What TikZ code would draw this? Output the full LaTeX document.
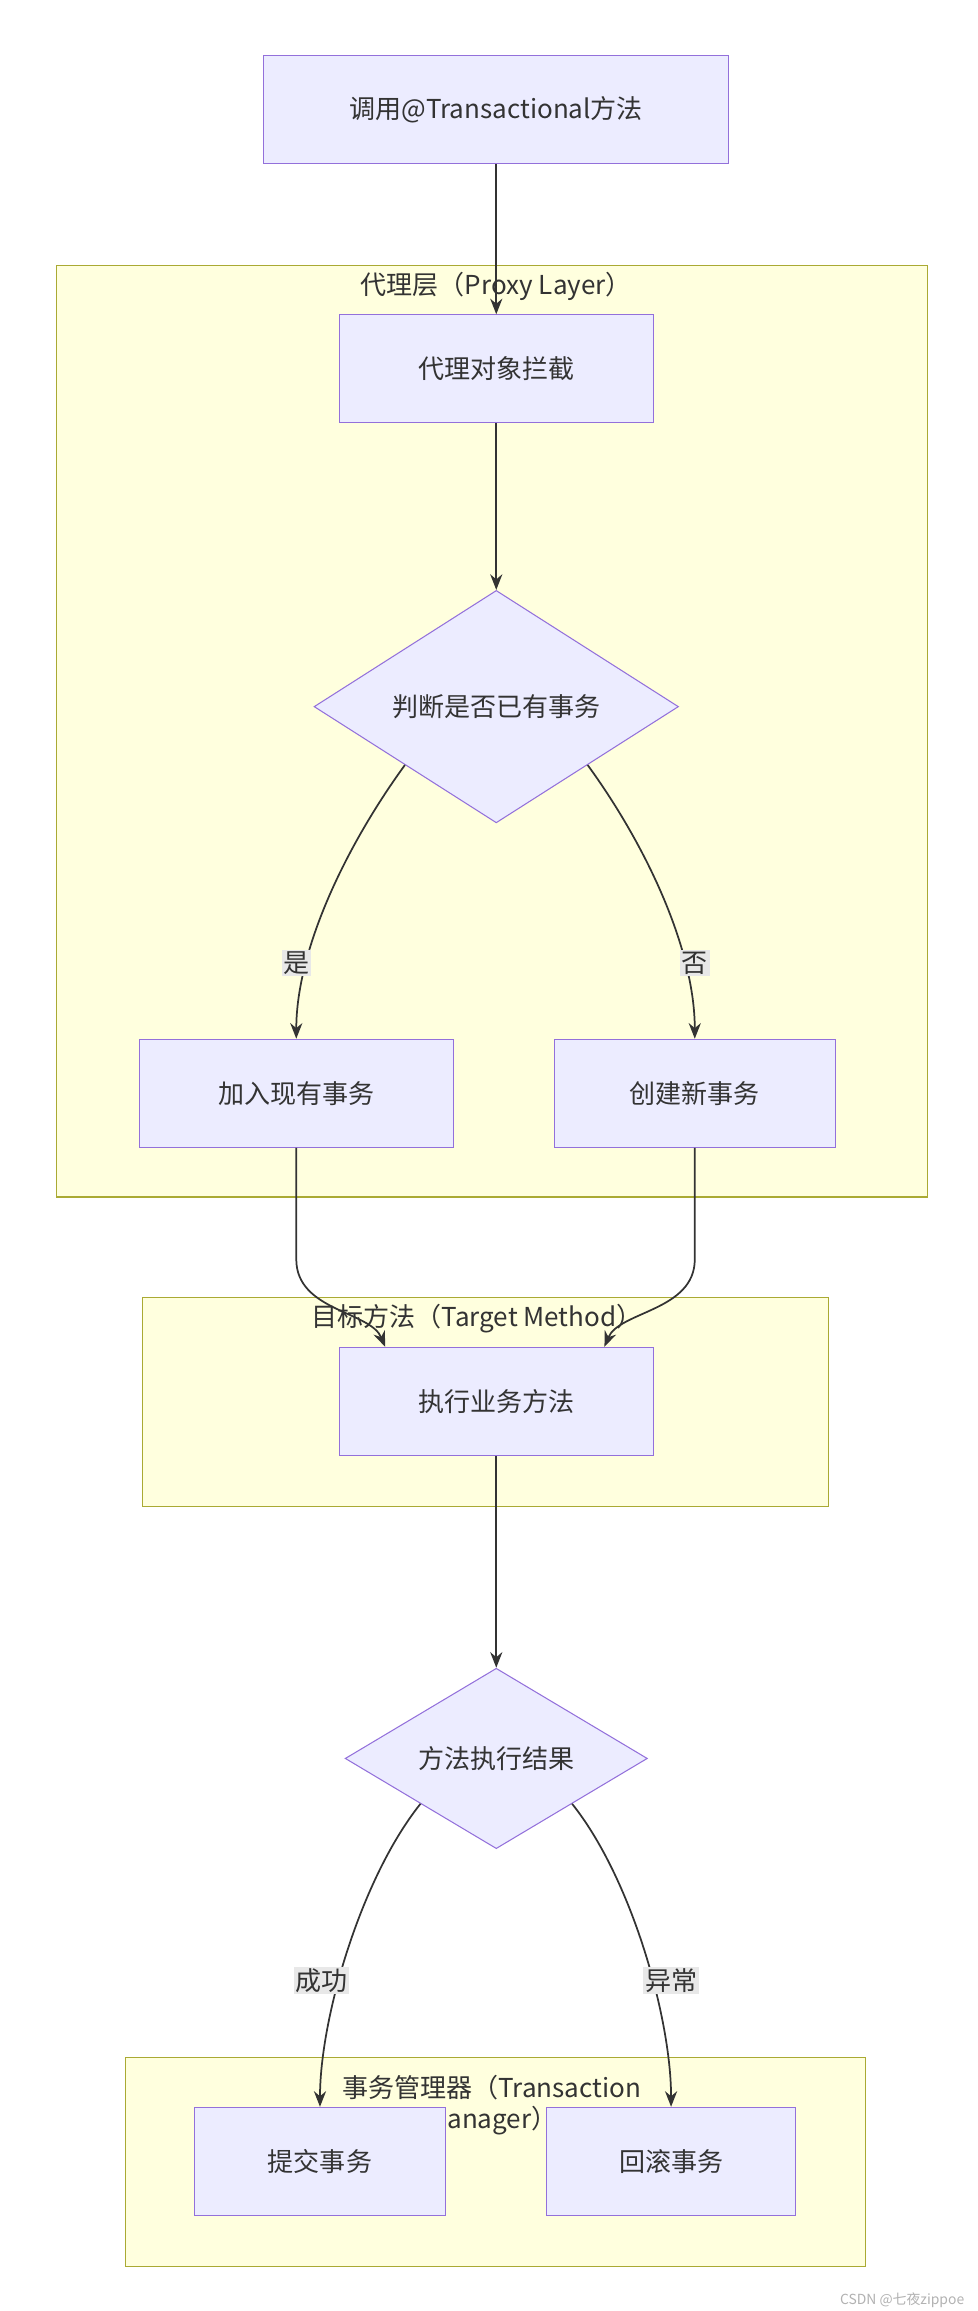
\documentclass[tikz,border=0pt]{standalone}
\usepackage{fontspec}
\setmainfont{Noto Sans CJK SC}
\usetikzlibrary{shapes.geometric, arrows.meta, positioning, calc}
\definecolor{nodefill}{HTML}{ECECFF}
\definecolor{nodeline}{HTML}{9370DB}
\definecolor{clusterfill}{HTML}{FFFFDE}
\definecolor{clusterline}{HTML}{AAAA33}
\definecolor{edgeline}{HTML}{333333}
\definecolor{labelfill}{HTML}{E8E8E8}
\tikzset{
  process/.style={rectangle, draw=nodeline, fill=nodefill, line width=0.6pt, minimum height=2.19cm, text=edgeline, font=\fontsize{15}{18}\selectfont},
  decision/.style={diamond, aspect=1, draw=nodeline, fill=nodefill, line width=0.6pt, inner sep=0pt, text=edgeline, font=\fontsize{15}{18}\selectfont},
  cluster/.style={draw=clusterline, fill=clusterfill, line width=0.6pt},
  clustertitle/.style={text=edgeline, font=\fontsize{15}{18}\selectfont, inner sep=1pt},
  edgelabel/.style={fill=labelfill, text=edgeline, inner sep=1pt, font=\fontsize{15}{18}\selectfont},
  arrow/.style={draw=edgeline, line width=1pt, -{Stealth[length=9pt, width=7pt]}}
}
\begin{document}
\begin{tikzpicture}[x=0.03cm, y=-0.03cm]
\useasboundingbox[fill=white] (0,0) rectangle (660,1560);

% Clusters
\draw[cluster] (38,179) rectangle (626,808);
\node[clustertitle] (proxytitle) at (335,193) {代理层（Proxy Layer）};
\draw[cluster] (96,876) rectangle (559,1017);
\node[clustertitle] (targettitle) at (322,890) {目标方法（Target Method）};
\draw[cluster] (85,1389) rectangle (584,1530);
\node[clustertitle, align=center] (tmtitle) at (332,1421) {事务管理器（Transaction\\Manager）};

% Nodes
\node (start) [process, minimum width=9.42cm] at (335,74) {调用@Transactional方法};
\node (intercept) [process, minimum width=6.36cm] at (335,249) {代理对象拦截};
\node (check) [decision, minimum width=7.38cm] at (335,477) {判断是否已有事务};
\node (join) [process, minimum width=6.36cm] at (200,738) {加入现有事务};
\node (create) [process, minimum width=5.7cm] at (469,738) {创建新事务};
\node (exec) [process, minimum width=6.36cm] at (335,946) {执行业务方法};
\node (result) [decision, minimum width=6.12cm] at (335,1187) {方法执行结果};
\node (commit) [process, minimum width=5.07cm] at (216,1459) {提交事务};
\node (rollback) [process, minimum width=5.04cm] at (453,1459) {回滚事务};

\coordinate (execL) at ([xshift=-2.25cm]exec.north);
\coordinate (execR) at ([xshift=2.19cm]exec.north);

% Arrows
\draw [arrow] (start) -- (intercept);
\draw [arrow] (intercept) -- (check);
\draw [arrow] (check.south west) .. controls +(-40,55) and +(0,-60) .. (join.north);
\draw [arrow] (check.south east) .. controls +(40,55) and +(0,-60) .. (create.north);
\draw [arrow] (join.south) -- (200,850) .. controls (200,885) and (250,885) .. (execL);
\draw [arrow] (create.south) -- (469,850) .. controls (469,885) and (418,885) .. (execR);
\draw [arrow] (exec) -- (result);
\draw [arrow] (result.south west) .. controls +(-40,50) and +(0,-60) .. (commit.north);
\draw [arrow] (result.south east) .. controls +(40,50) and +(0,-60) .. (rollback.north);

% Edge labels
\node[edgelabel] (yes) at (200,650) {是};
\node[edgelabel] (no) at (469,650) {否};
\node[edgelabel] (ok) at (217,1337) {成功};
\node[edgelabel] (err) at (453,1337) {异常};

\node[text=gray!60, font=\fontsize{8}{10}\selectfont, anchor=east] (mark) at (655,1553) {CSDN @七夜zippoe};
\end{tikzpicture}
\end{document}
